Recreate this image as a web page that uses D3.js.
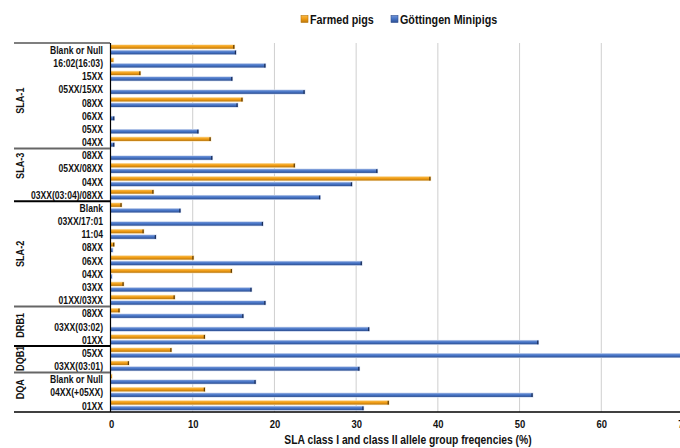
<!DOCTYPE html>
<html><head><meta charset="utf-8">
<script src="https://cdn.jsdelivr.net/npm/d3@7"></script>
<style>
html,body{margin:0;padding:0;background:#fff;overflow:hidden}
text{font-family:"Liberation Sans",Arial,sans-serif;font-weight:bold;fill:#111}
</style></head>
<body>
<svg id="c" width="680" height="448"></svg>
<script>
// ---- data ----
const groups = ["SLA-1","SLA-3","SLA-2","DRB1","DQB1","DQA"];
const groupSizes = [8,4,8,3,2,3];
const categories = [
  "Blank or Null","16:02(16:03)","15XX","05XX/15XX","08XX","06XX","05XX","04XX",
  "08XX","05XX/08XX","04XX","03XX(03:04)/08XX",
  "Blank","03XX/17:01","11:04","08XX","06XX","04XX","03XX","01XX/03XX",
  "08XX","03XX(03:02)","01XX",
  "05XX","03XX(03:01)",
  "Blank or Null","04XX(+05XX)","01XX"
];
const farmed = [
  15.1,0.3,3.6,0,16.1,0,0,12.2,
  0,22.5,39.1,5.2,
  1.3,0,4.0,0.4,10.1,14.8,1.55,7.8,
  1.05,0,11.5,
  7.4,2.2,
  0.1,11.5,34.0
];
const minipigs = [
  15.3,18.9,14.85,23.7,15.5,0.4,10.7,0.4,
  12.4,32.6,29.5,25.6,
  8.5,18.6,5.5,0.2,30.7,0.1,17.2,18.9,
  16.2,31.6,52.3,
  72,30.4,
  17.7,51.6,30.9
];
const xTicks = [0,10,20,30,40,50,60,70];
const seriesNames = ["Farmed pigs","Göttingen Minipigs"];
const xTitle = "SLA class I and class II allele group freqencies (%)";

// ---- layout ----
const svg = d3.select("#c");
const mLeft = 111, mTop = 43, mBottom = 412, rightEnd = 683;
const SX = 0.86; // narrow font rendering
const x = d3.scaleLinear().domain([0,70]).range([mLeft,rightEnd]);
const y = d3.scaleBand().domain(d3.range(categories.length)).range([mTop,mBottom]);

const defs = svg.append("defs");
function grad(id, c1, c2, c3){
  const g = defs.append("linearGradient").attr("id",id).attr("x1",0).attr("y1",0).attr("x2",0).attr("y2",1);
  g.append("stop").attr("offset","0%").attr("stop-color",c1);
  g.append("stop").attr("offset","50%").attr("stop-color",c2);
  g.append("stop").attr("offset","100%").attr("stop-color",c3);
}
grad("gO","#f8b945","#ef9a12","#b8770f");
grad("gB","#6f93d6","#4472c4","#2f4f8f");

// gridlines
svg.append("g").selectAll("line").data(xTicks.filter(d=>d>0)).join("line")
  .attr("x1",d=>x(d)).attr("x2",d=>x(d)).attr("y1",mTop).attr("y2",mBottom)
  .attr("stroke","#cfcfcf").attr("stroke-width",1);

// bars
const bh = 3.7;
const gBars = svg.append("g");
function drawSeries(vals, dy, fill, halo, cap){
  const g = gBars.append("g");
  const data = vals.map((v,i)=>({v,i})).filter(d=>d.v>0);
  g.selectAll("rect.halo").data(data).join("rect").attr("class","halo")
    .attr("x",x(0)).attr("y",d=>y(d.i)+dy-0.6).attr("width",d=>x(d.v)-x(0)+0.7).attr("height",bh+1.2)
    .attr("fill",halo);
  g.selectAll("rect.bar").data(data).join("rect").attr("class","bar")
    .attr("x",x(0)).attr("y",d=>y(d.i)+dy).attr("width",d=>x(d.v)-x(0)).attr("height",bh)
    .attr("fill",fill);
  g.selectAll("rect.cap").data(data.filter(d=>d.v>0.3)).join("rect").attr("class","cap")
    .attr("x",d=>x(d.v)-1.2).attr("y",d=>y(d.i)+dy).attr("width",1.2).attr("height",bh)
    .attr("fill",cap);
}
drawSeries(farmed, 2.0, "url(#gO)", "#fbe2b5", "#5a3a08");
drawSeries(minipigs, 7.6, "url(#gB)", "#c9d6ee", "#1c2d55");

// x axis
const xa = svg.append("g").attr("transform",`translate(0,${mBottom})`)
  .call(d3.axisBottom(x).tickValues(xTicks).tickSize(0).tickPadding(8).tickFormat(d3.format("d")));
xa.select(".domain").remove();
xa.selectAll("text").style("font-size","11px").style("font-family","Liberation Sans, Arial, sans-serif")
  .style("font-weight","bold").attr("fill","#111").attr("transform",`scale(${SX},1)`);
svg.append("line").attr("x1",14).attr("x2",680).attr("y1",mBottom).attr("y2",mBottom).attr("stroke","#000").attr("stroke-width",1.5);

// y axis line
svg.append("line").attr("x1",mLeft-0.5).attr("x2",mLeft-0.5).attr("y1",mTop).attr("y2",mBottom).attr("stroke","#000").attr("stroke-width",1.2);

// category labels
svg.append("g").selectAll("text").data(categories).join("text")
  .attr("transform",(d,i)=>`translate(103,${y(i)+y.bandwidth()/2+4.2}) scale(${SX},1)`)
  .attr("text-anchor","end").style("font-size","10px").text(d=>d);

// group separators and labels
let start = 0;
const sepColors = ["#000","#666","#000","#666","#000","#666"];
const labelShift = [5,-9,0,-1,-1,-3];
groups.forEach((g,gi)=>{
  const y0 = y(start);
  const y1 = y(start+groupSizes[gi]-1)+y.bandwidth();
  svg.append("line").attr("x1",14).attr("x2",110).attr("y1",y0).attr("y2",y0)
    .attr("stroke",sepColors[gi]).attr("stroke-width",gi===0?1.2:2);
  svg.append("text").attr("transform",`translate(23.5,${(y0+y1)/2+labelShift[gi]}) rotate(-90) scale(${SX},1)`)
    .attr("text-anchor","middle").style("font-size","10.6px").text(g);
  start += groupSizes[gi];
});

// legend
const lg = svg.append("g");
const lx = [301,391];
const lc = ["url(#gO)","url(#gB)"];
seriesNames.forEach((n,i)=>{
  lg.append("rect").attr("x",lx[i]).attr("y",15.5).attr("width",7).attr("height",7).attr("fill",lc[i]).attr("stroke",i?"#2f4f8f":"#b8770f").attr("stroke-width",0.6);
  lg.append("text").attr("transform",`translate(${lx[i]+9},23.5) scale(${SX},1)`).style("font-size","12.5px").text(n);
});

// x title
svg.append("text").attr("transform",`translate(408,444) scale(${SX},1)`).attr("text-anchor","middle").style("font-size","12px").text(xTitle);
</script>
</body></html>
